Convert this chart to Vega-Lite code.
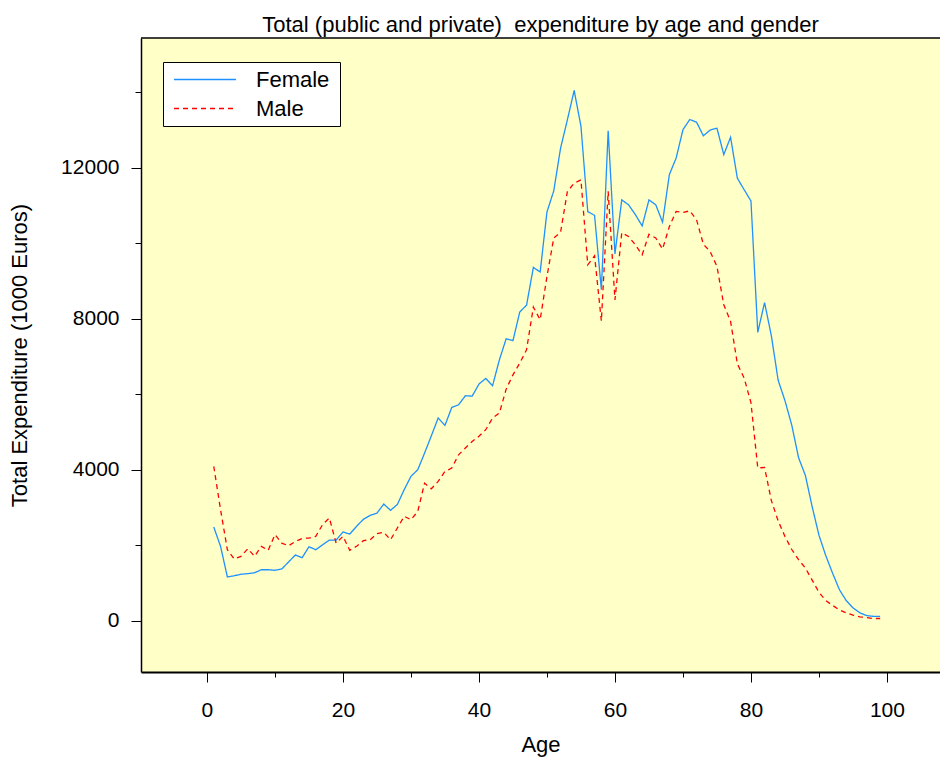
{
  "$schema": "https://vega.github.io/schema/vega-lite/v6.json",
  "width": 799,
  "height": 634,
  "autosize": {"type": "none"},
  "padding": {"left": 141, "top": 38, "right": 0, "bottom": 87},
  "background": "white",
  "config": {
    "font": "Liberation Sans",
    "view": {"fill": "#ffffc8", "stroke": null}
  },
  "title": {
    "text": "Total (public and private)\u00a0 expenditure by age and gender",
    "fontSize": 22,
    "fontWeight": "normal",
    "color": "black",
    "anchor": "middle",
    "frame": "group",
    "offset": 0
  },
  "datasets": {
    "spend": [
      {"age":1,"sex":"Female","value":2480},{"age":2,"sex":"Female","value":1970},{"age":3,"sex":"Female","value":1160},{"age":4,"sex":"Female","value":1190},{"age":5,"sex":"Female","value":1230},{"age":6,"sex":"Female","value":1245},{"age":7,"sex":"Female","value":1270},{"age":8,"sex":"Female","value":1350},{"age":9,"sex":"Female","value":1350},{"age":10,"sex":"Female","value":1335},
      {"age":11,"sex":"Female","value":1370},{"age":12,"sex":"Female","value":1555},{"age":13,"sex":"Female","value":1740},{"age":14,"sex":"Female","value":1670},{"age":15,"sex":"Female","value":1960},{"age":16,"sex":"Female","value":1880},{"age":17,"sex":"Female","value":2010},{"age":18,"sex":"Female","value":2135},{"age":19,"sex":"Female","value":2135},{"age":20,"sex":"Female","value":2350},
      {"age":21,"sex":"Female","value":2295},{"age":22,"sex":"Female","value":2500},{"age":23,"sex":"Female","value":2685},{"age":24,"sex":"Female","value":2790},{"age":25,"sex":"Female","value":2850},{"age":26,"sex":"Female","value":3090},{"age":27,"sex":"Female","value":2925},{"age":28,"sex":"Female","value":3080},{"age":29,"sex":"Female","value":3470},{"age":30,"sex":"Female","value":3825},
      {"age":31,"sex":"Female","value":4000},{"age":32,"sex":"Female","value":4440},{"age":33,"sex":"Female","value":4900},{"age":34,"sex":"Female","value":5370},{"age":35,"sex":"Female","value":5175},{"age":36,"sex":"Female","value":5650},{"age":37,"sex":"Female","value":5720},{"age":38,"sex":"Female","value":5960},{"age":39,"sex":"Female","value":5950},{"age":40,"sex":"Female","value":6270},
      {"age":41,"sex":"Female","value":6420},{"age":42,"sex":"Female","value":6225},{"age":43,"sex":"Female","value":6910},{"age":44,"sex":"Female","value":7470},{"age":45,"sex":"Female","value":7420},{"age":46,"sex":"Female","value":8180},{"age":47,"sex":"Female","value":8360},{"age":48,"sex":"Female","value":9360},{"age":49,"sex":"Female","value":9240},{"age":50,"sex":"Female","value":10830},
      {"age":51,"sex":"Female","value":11390},{"age":52,"sex":"Female","value":12520},{"age":53,"sex":"Female","value":13270},{"age":54,"sex":"Female","value":14050},{"age":55,"sex":"Female","value":13100},{"age":56,"sex":"Female","value":10840},{"age":57,"sex":"Female","value":10740},{"age":58,"sex":"Female","value":8770},{"age":59,"sex":"Female","value":12980},{"age":60,"sex":"Female","value":9720},
      {"age":61,"sex":"Female","value":11150},{"age":62,"sex":"Female","value":11020},{"age":63,"sex":"Female","value":10760},{"age":64,"sex":"Female","value":10460},{"age":65,"sex":"Female","value":11150},{"age":66,"sex":"Female","value":11020},{"age":67,"sex":"Female","value":10560},{"age":68,"sex":"Female","value":11820},{"age":69,"sex":"Female","value":12260},{"age":70,"sex":"Female","value":13010},
      {"age":71,"sex":"Female","value":13280},{"age":72,"sex":"Female","value":13210},{"age":73,"sex":"Female","value":12850},{"age":74,"sex":"Female","value":13000},{"age":75,"sex":"Female","value":13050},{"age":76,"sex":"Female","value":12350},{"age":77,"sex":"Female","value":12810},{"age":78,"sex":"Female","value":11725},{"age":79,"sex":"Female","value":11420},{"age":80,"sex":"Female","value":11120},
      {"age":81,"sex":"Female","value":7640},{"age":82,"sex":"Female","value":8430},{"age":83,"sex":"Female","value":7550},{"age":84,"sex":"Female","value":6370},{"age":85,"sex":"Female","value":5830},{"age":86,"sex":"Female","value":5180},{"age":87,"sex":"Female","value":4320},{"age":88,"sex":"Female","value":3850},{"age":89,"sex":"Female","value":3020},{"age":90,"sex":"Female","value":2265},
      {"age":91,"sex":"Female","value":1725},{"age":92,"sex":"Female","value":1260},{"age":93,"sex":"Female","value":825},{"age":94,"sex":"Female","value":535},{"age":95,"sex":"Female","value":340},{"age":96,"sex":"Female","value":210},{"age":97,"sex":"Female","value":135},{"age":98,"sex":"Female","value":115},{"age":99,"sex":"Female","value":115},
      {"age":1,"sex":"Male","value":4090},{"age":2,"sex":"Male","value":2940},{"age":3,"sex":"Male","value":1880},{"age":4,"sex":"Male","value":1635},{"age":5,"sex":"Male","value":1705},{"age":6,"sex":"Male","value":1905},{"age":7,"sex":"Male","value":1705},{"age":8,"sex":"Male","value":1970},{"age":9,"sex":"Male","value":1865},{"age":10,"sex":"Male","value":2280},
      {"age":11,"sex":"Male","value":2055},{"age":12,"sex":"Male","value":1985},{"age":13,"sex":"Male","value":2100},{"age":14,"sex":"Male","value":2180},{"age":15,"sex":"Male","value":2190},{"age":16,"sex":"Male","value":2235},{"age":17,"sex":"Male","value":2545},{"age":18,"sex":"Male","value":2720},{"age":19,"sex":"Male","value":2055},{"age":20,"sex":"Male","value":2235},
      {"age":21,"sex":"Male","value":1865},{"age":22,"sex":"Male","value":1970},{"age":23,"sex":"Male","value":2120},{"age":24,"sex":"Male","value":2145},{"age":25,"sex":"Male","value":2305},{"age":26,"sex":"Male","value":2340},{"age":27,"sex":"Male","value":2145},{"age":28,"sex":"Male","value":2455},{"age":29,"sex":"Male","value":2765},{"age":30,"sex":"Male","value":2675},
      {"age":31,"sex":"Male","value":2895},{"age":32,"sex":"Male","value":3645},{"age":33,"sex":"Male","value":3495},{"age":34,"sex":"Male","value":3690},{"age":35,"sex":"Male","value":3955},{"age":36,"sex":"Male","value":4045},{"age":37,"sex":"Male","value":4395},{"age":38,"sex":"Male","value":4575},{"age":39,"sex":"Male","value":4750},{"age":40,"sex":"Male","value":4885},
      {"age":41,"sex":"Male","value":5060},{"age":42,"sex":"Male","value":5370},{"age":43,"sex":"Male","value":5500},{"age":44,"sex":"Male","value":6135},{"age":45,"sex":"Male","value":6515},{"age":46,"sex":"Male","value":6825},{"age":47,"sex":"Male","value":7180},{"age":48,"sex":"Male","value":8310},{"age":49,"sex":"Male","value":7975},{"age":50,"sex":"Male","value":9120},
      {"age":51,"sex":"Male","value":10140},{"age":52,"sex":"Male","value":10290},{"age":53,"sex":"Male","value":11370},{"age":54,"sex":"Male","value":11595},{"age":55,"sex":"Male","value":11680},{"age":56,"sex":"Male","value":9430},{"age":57,"sex":"Male","value":9670},{"age":58,"sex":"Male","value":7940},{"age":59,"sex":"Male","value":11380},{"age":60,"sex":"Male","value":8500},
      {"age":61,"sex":"Male","value":10280},{"age":62,"sex":"Male","value":10180},{"age":63,"sex":"Male","value":9960},{"age":64,"sex":"Male","value":9695},{"age":65,"sex":"Male","value":10240},{"age":66,"sex":"Male","value":10140},{"age":67,"sex":"Male","value":9846},{"age":68,"sex":"Male","value":10445},{"age":69,"sex":"Male","value":10843},{"age":70,"sex":"Male","value":10815},
      {"age":71,"sex":"Male","value":10860},{"age":72,"sex":"Male","value":10623},{"age":73,"sex":"Male","value":9975},{"age":74,"sex":"Male","value":9780},{"age":75,"sex":"Male","value":9390},{"age":76,"sex":"Male","value":8370},{"age":77,"sex":"Male","value":7935},{"age":78,"sex":"Male","value":6808},{"age":79,"sex":"Male","value":6427},{"age":80,"sex":"Male","value":5777},
      {"age":81,"sex":"Male","value":4048},{"age":82,"sex":"Male","value":4060},{"age":83,"sex":"Male","value":3184},{"age":84,"sex":"Male","value":2643},{"age":85,"sex":"Male","value":2232},{"age":86,"sex":"Male","value":1886},{"age":87,"sex":"Male","value":1616},{"age":88,"sex":"Male","value":1399},{"age":89,"sex":"Male","value":1075},{"age":90,"sex":"Male","value":750},
      {"age":91,"sex":"Male","value":535},{"age":92,"sex":"Male","value":405},{"age":93,"sex":"Male","value":286},{"age":94,"sex":"Male","value":209},{"age":95,"sex":"Male","value":146},{"age":96,"sex":"Male","value":103},{"age":97,"sex":"Male","value":80},{"age":98,"sex":"Male","value":58},{"age":99,"sex":"Male","value":58}
    ]
  },
  "layer": [
    {
      "data": {"name": "spend"},
      "mark": {"type": "line", "strokeWidth": 1.3},
      "encoding": {
        "x": {
          "field": "age",
          "type": "quantitative",
          "scale": {"domain": [-9.7, 107.8], "nice": false, "zero": false},
          "axis": {
            "title": "Age",
            "values": [0, 10, 20, 30, 40, 50, 60, 70, 80, 90, 100],
            "labelExpr": "datum.value % 20 === 0 ? datum.label : ''",
            "grid": false,
            "domainColor": "black",
            "domainWidth": 2,
            "tickColor": "black",
            "tickWidth": 1,
            "tickSize": {"condition": {"test": "datum.value % 20 === 0", "value": 10}, "value": 5},
            "labelPadding": 17,
            "labelFontSize": 21,
            "labelColor": "black",
            "labelFlush": false,
            "labelOverlap": false,
            "titleFontSize": 22,
            "titleFontWeight": "normal",
            "titleColor": "black",
            "titlePadding": 14
          }
        },
        "y": {
          "field": "value",
          "type": "quantitative",
          "scale": {"domain": [-1360, 15440], "nice": false, "zero": false},
          "axis": {
            "title": "Total Expenditure (1000 Euros)",
            "values": [0, 2000, 4000, 6000, 8000, 10000, 12000, 14000],
            "format": "d",
            "labelExpr": "datum.value % 4000 === 0 ? datum.label : ''",
            "grid": false,
            "domainColor": "black",
            "domainWidth": 1.5,
            "tickColor": "black",
            "tickWidth": 1,
            "tickSize": {"condition": {"test": "datum.value % 4000 === 0", "value": 10}, "value": 6},
            "labelPadding": 12,
            "labelFontSize": 21,
            "labelColor": "black",
            "labelFlush": false,
            "labelOverlap": false,
            "titleFontSize": 22,
            "titleFontWeight": "normal",
            "titleColor": "black",
            "titlePadding": 29
          }
        },
        "color": {
          "field": "sex",
          "type": "nominal",
          "scale": {"domain": ["Female", "Male"], "range": ["#1e90ff", "#ff0000"]},
          "legend": {
            "title": "\u00a0",
            "titleOrient": "right",
            "titleFontSize": 2,
            "titlePadding": 8,
            "orient": "none",
            "legendX": 22,
            "legendY": 24,
            "fillColor": "white",
            "strokeColor": "black",
            "padding": 3,
            "symbolType": "stroke",
            "symbolSize": 3844,
            "symbolStrokeWidth": 1.3,
            "symbolOffset": 7,
            "clipHeight": 29,
            "rowPadding": 0,
            "labelOffset": 19,
            "labelFontSize": 22,
            "labelColor": "black"
          }
        },
        "strokeDash": {
          "field": "sex",
          "type": "nominal",
          "scale": {"domain": ["Female", "Male"], "range": [[1, 0], [5, 4]]},
          "legend": {
            "title": "\u00a0",
            "titleOrient": "right",
            "titleFontSize": 2,
            "titlePadding": 8,
            "orient": "none",
            "legendX": 22,
            "legendY": 24,
            "fillColor": "white",
            "strokeColor": "black",
            "padding": 3,
            "symbolType": "stroke",
            "symbolSize": 3844,
            "symbolStrokeWidth": 1.3,
            "symbolOffset": 7,
            "clipHeight": 29,
            "rowPadding": 0,
            "labelOffset": 19,
            "labelFontSize": 22,
            "labelColor": "black"
          }
        }
      }
    },
    {
      "data": {"values": [{}]},
      "mark": {"type": "rule", "color": "black", "strokeWidth": 1.5},
      "encoding": {"y": {"datum": 15440}}
    }
  ]
}
